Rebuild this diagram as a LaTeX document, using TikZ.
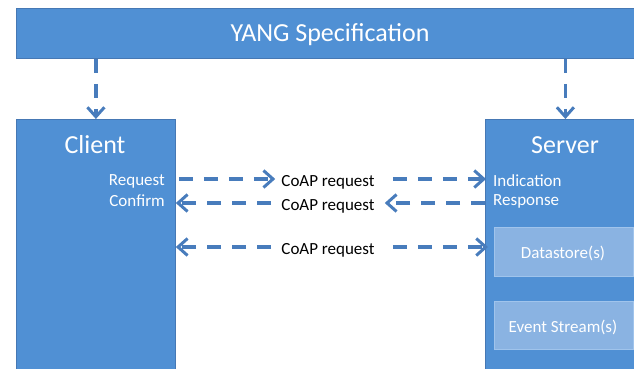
\documentclass[tikz,border=0pt]{standalone}
\usepackage{fontspec}
\setmainfont{Carlito}
\usetikzlibrary{arrows.meta}
\definecolor{boxblue}{RGB}{80,144,212}
\definecolor{boxedge}{RGB}{70,120,180}
\definecolor{innerblue}{RGB}{138,179,226}
\definecolor{inneredge}{RGB}{160,196,236}
\definecolor{arrowblue}{RGB}{72,124,188}
\tikzset{
  bigbox/.style={draw=boxedge, fill=boxblue, line width=0.8pt, anchor=north west, inner sep=0pt},
  innerbox/.style={draw=inneredge, fill=innerblue, line width=0.8pt, anchor=north west, inner sep=0pt},
  title/.style={text=white, font=\fontsize{26}{30}\selectfont, inner sep=0pt},
  small/.style={text=white, font=\fontsize{17}{20}\selectfont, inner sep=0pt},
  coap/.style={text=black, font=\fontsize{17}{20}\selectfont, inner sep=0pt},
  flow/.style={draw=arrowblue, line width=3.2pt, dash pattern=on 14pt off 11pt,
    arrows={-{Straight Barb[length=9.5pt,width=17pt,line width=3pt]}}},
}
\begin{document}
\begin{tikzpicture}[x=1pt,y=-1pt]
\useasboundingbox (0,0) rectangle (634,368);
\clip (0,0) rectangle (634,368);
% boxes
\node[bigbox, minimum width=640, minimum height=50] (yang) at (16,8) {};
\node[bigbox, minimum width=159, minimum height=270] (client) at (16,119) {};
\node[bigbox, minimum width=160, minimum height=270] (server) at (485,119) {};
\node[innerbox, minimum width=139, minimum height=49] (ds) at (494,227) {};
\node[innerbox, minimum width=139, minimum height=48] (es) at (494,301) {};
% texts
\node[title] (yangt) at (330,35) {YANG Specification};
\node[title] (clientt) at (95,145) {Client};
\node[title] (servert) at (565,145) {Server};
\node[small, anchor=east] (req) at (165,181) {Request};
\node[small, anchor=east] (conf) at (165,201) {Confirm};
\node[small, anchor=west] (ind) at (493,181) {Indication};
\node[small, anchor=west] (resp) at (493,201) {Response};
\node[small] (dst) at (563,253) {Datastore(s)};
\node[small] (est) at (563,327) {Event Stream(s)};
\node[coap] (l1) at (328,182) {CoAP request};
\node[coap] (l2) at (328,206) {CoAP request};
\node[coap] (l3) at (328,250) {CoAP request};
% connectors
\draw[flow] (yang.south -| client.north) -- (client.north);
\draw[flow] (yang.south -| server.north) -- (server.north);
% row 1
\draw[flow] ([xshift=3pt,yshift=3pt]client.east |- l1) -- ([xshift=-6pt,yshift=3pt]l1.west);
\draw[flow] ([xshift=18pt,yshift=3pt]l1.east) -- ([xshift=1pt,yshift=3pt]server.west |- l1);
% row 2
\draw[flow] ([xshift=-10pt,yshift=3pt]l2.west) -- ([yshift=3pt]client.east |- l2);
\draw[flow] ([yshift=3pt]server.west |- l2) -- ([xshift=10pt,yshift=3pt]l2.east);
% row 3
\draw[flow] ([xshift=-10pt,yshift=3pt]l3.west) -- ([yshift=3pt]client.east |- l3);
\draw[flow] ([xshift=18pt,yshift=3pt]l3.east) -- ([xshift=3pt,yshift=3pt]server.west |- l3);
\end{tikzpicture}
\end{document}
